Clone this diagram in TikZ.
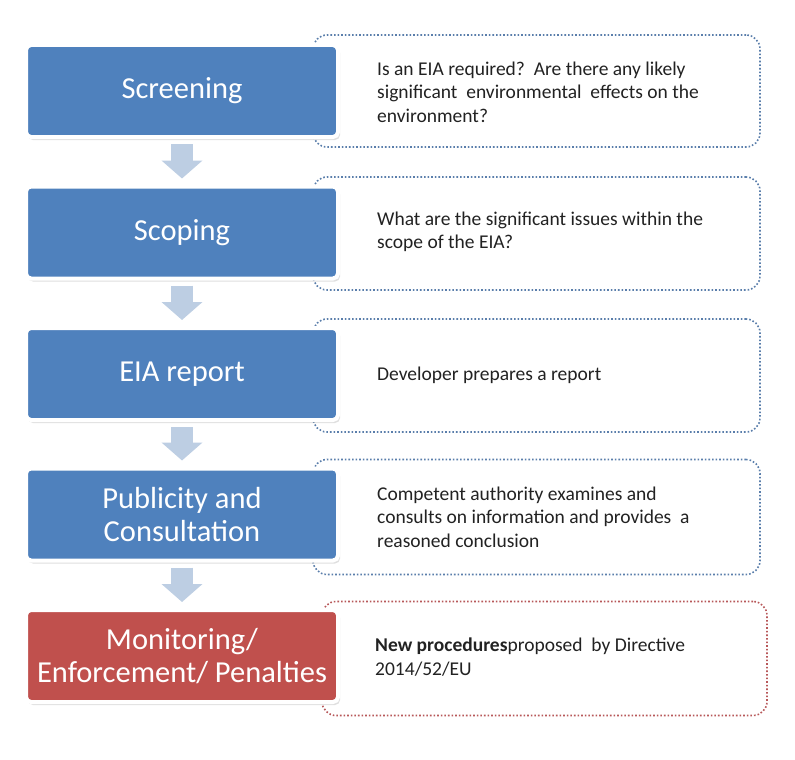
\documentclass[tikz,border=0pt]{standalone}
\usepackage{fontspec}
\setmainfont{Carlito}
\usetikzlibrary{arrows.meta,shadows}
\definecolor{eiablue}{HTML}{4F81BD}
\definecolor{eiared}{HTML}{C0504D}
\definecolor{dotblue}{HTML}{5A7EAB}
\definecolor{dotred}{HTML}{B8585A}
\definecolor{arrowfill}{HTML}{BDCEE3}
\definecolor{infotext}{HTML}{222222}
\begin{document}
\begin{tikzpicture}[x=1pt,y=-1pt,
  stage/.style={rectangle, rounded corners=5pt, fill=eiablue, draw=white,
    line width=4pt, minimum width=312pt, minimum height=92pt, text=white,
    font=\fontsize{30.5}{32.5}\selectfont, align=center,
    drop shadow={opacity=0.25, shadow xshift=2pt, shadow yshift=-3pt}},
  redstage/.style={stage, fill=eiared},
  infobox/.style={rectangle, rounded corners=14pt, draw=dotblue,
    line width=1.6pt, dotted, inner sep=0pt},
  redinfo/.style={infobox, draw=dotred},
  infotxt/.style={anchor=west, align=left, text=infotext, inner sep=0pt,
    font=\fontsize{19.5}{23.5}\selectfont},
  flow/.style={draw=arrowfill, line width=22pt,
    -{Triangle[width=40pt,length=18pt]}, shorten <=5pt, shorten >=6pt}]
\useasboundingbox[fill=white] (0,0) rectangle (795,760);

% dotted description boxes (drawn first, partly behind the stages)
\node[infobox, minimum width=447pt, minimum height=112pt] (i1) at (536.5,91) {};
\node[infobox, minimum width=447pt, minimum height=113pt] (i2) at (536.5,233.5) {};
\node[infobox, minimum width=447pt, minimum height=113pt] (i3) at (536.5,375.5) {};
\node[infobox, minimum width=447pt, minimum height=115pt] (i4) at (536.5,517) {};
\node[redinfo, minimum width=445pt, minimum height=114pt] (i5) at (544.5,658.5) {};

% stages
\node[stage] (s1) at (182,91) {Screening};
\node[stage] (s2) at (182,232.5) {Scoping};
\node[stage] (s3) at (182,374) {EIA report};
\node[stage] (s4) at (182,514.5) {Publicity and\\Consultation};
\node[redstage] (s5) at (182,656) {Monitoring/\\Enforcement/ Penalties};

% arrows
\draw[flow] (s1.south) -- (s2.north);
\draw[flow] (s2.south) -- (s3.north);
\draw[flow] (s3.south) -- (s4.north);
\draw[flow] (s4.south) -- (s5.north);

% descriptions
\node[infotxt] (t1) at (377,92) {Is an EIA required?\ \ Are there any likely\\significant\ \ environmental\ \ effects on\ the\\environment?};
\node[infotxt] (t2) at (377,232) {What are the significant issues within the\\scope of the EIA?};
\node[infotxt] (t3) at (377,375) {Developer\ prepares\ a report};
\node[infotxt] (t4) at (377,517) {Competent\ authority examines\ and\\consults on\ information\ and provides\ \ a\\reasoned\ conclusion};
\node[infotxt] (t5) at (375,657) {\textbf{New procedures}proposed\ \ by Directive\\2014/52/EU};
\end{tikzpicture}
\end{document}
